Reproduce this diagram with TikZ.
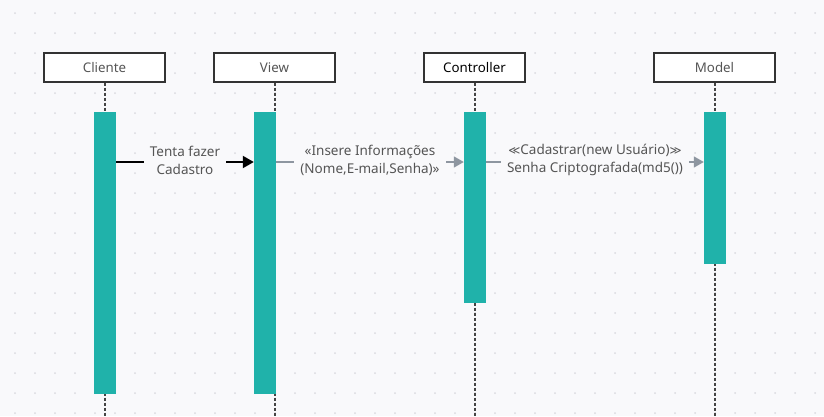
\documentclass[tikz,border=0pt]{standalone}
\usepackage{fontspec}
\setmainfont{Noto Sans}
\newfontfamily\symfont{DejaVu Sans}
\usetikzlibrary{positioning}
\usetikzlibrary{arrows.meta}

\definecolor{bgcol}{HTML}{F9F9FB}
\definecolor{dotcol}{HTML}{DADADF}
\definecolor{barcol}{HTML}{20B2AA}
\definecolor{txtcol}{HTML}{555555}
\definecolor{msgcol}{HTML}{8E96A0}
\definecolor{lifecol}{HTML}{444444}

\tikzset{
  actor/.style={draw=black!80, line width=1.3pt, fill=white, minimum width=121pt,
    minimum height=29pt, inner sep=0pt, text=txtcol, font=\fontsize{13.3}{15}\selectfont},
  actbar/.style={fill=barcol, draw=none, minimum width=22pt, inner sep=0pt},
  lifeline/.style={draw=lifecol, line width=2pt, dash pattern=on 3pt off 2pt},
  msglabel/.style={fill=bgcol, text=txtcol, align=center, inner xsep=6pt,
    font=\fontsize{13.5}{18}\selectfont},
  callmsg/.style={draw=black, line width=2pt, -{Triangle[length=11pt,width=12pt]}},
  passmsg/.style={draw=msgcol, line width=1.5pt, -{Triangle[length=10pt,width=11pt]}}
}

\begin{document}
\begin{tikzpicture}[x=1pt,y=-1pt]
        \fill[bgcol] (0,0) rectangle (824,416);
        \useasboundingbox (0,0) rectangle (824,416);
        % dot grid
        \foreach \gx in {15,35,...,815}
          \foreach \gy in {13,33,...,413}
            \fill[dotcol] (\gx,\gy) circle (1pt);

        % actors
        \node[actor] (cliente) at (104.5,67.5) {Cliente};
        \node[actor] (view) at (274.5,67.5) {View};
        \node[actor, minimum width=101pt, text=black] (controller) at (474.5,67.5) {Controller};
        \node[actor] (model) at (714.5,67.5) {Model};

        % lifelines
        \coordinate (bottom) at (0,416);
        \foreach \a in {cliente,view,controller,model}
          \draw[lifeline] (\a.south) -- (\a.south |- bottom);

        % activation bars
        \node[actbar, minimum height=282pt] (barCliente) at (105,253) {};
        \node[actbar, minimum height=282pt] (barView) at (265,253) {};
        \node[actbar, minimum height=191pt] (barController) at (475,207.5) {};
        \node[actbar, minimum height=152pt] (barModel) at (715,188) {};

        % messages
        \coordinate (m) at (0,162);
        \draw[callmsg] (barCliente.east |- m) -- node[msglabel, yshift=2pt] (lblCadastro) {Tenta fazer\\Cadastro} (barView.west |- m);
        \draw[passmsg] (barView.east |- m) -- node[msglabel, yshift=2pt] (lblInsere) {«Insere Informações\\(Nome,E-mail,Senha)»} (barController.west |- m);
        \draw[passmsg] (barController.east |- m) -- node[msglabel, yshift=2pt] (lblCadastrar) {{\symfont\fontsize{11.5}{18}\selectfont ≪}Cadastrar(new Usuário){\symfont\fontsize{11.5}{18}\selectfont ≫}\\Senha Criptografada(md5())} (barModel.west |- m);
    \end{tikzpicture}
\end{document}
